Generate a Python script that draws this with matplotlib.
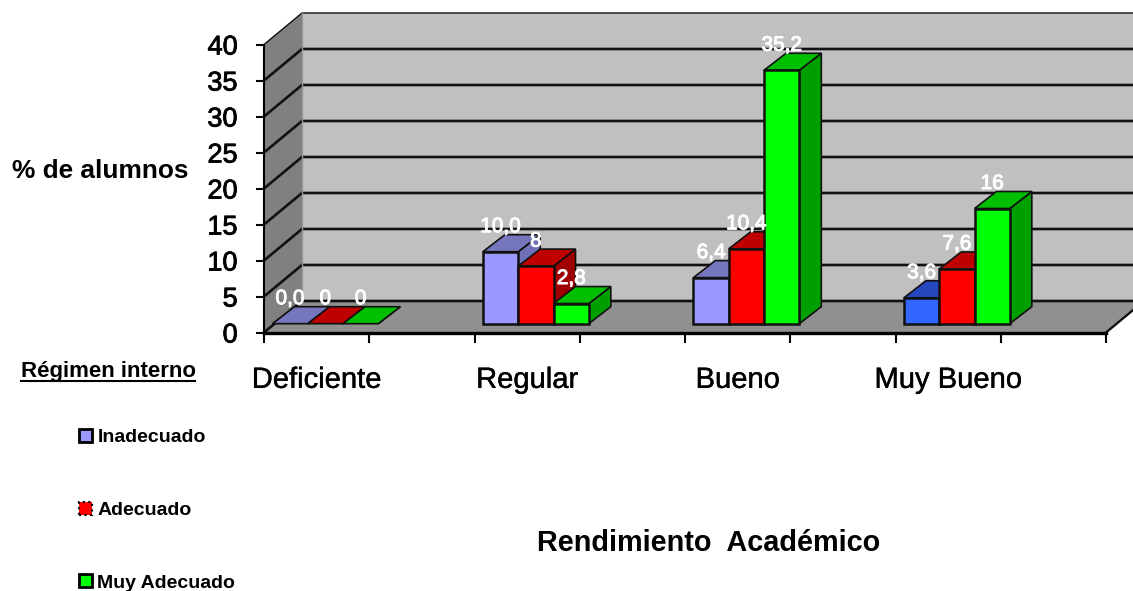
import matplotlib
matplotlib.use("Agg")
import matplotlib.pyplot as plt
import matplotlib.patheffects as pe
from matplotlib.patches import Polygon, Patch

plt.rcParams['font.family'] = ['Liberation Sans', 'DejaVu Sans']

# --- data
categories = ["Deficiente", "Regular", "Bueno", "Muy Bueno"]
series = ["Inadecuado", "Adecuado", "Muy Adecuado"]
inadecuado = [0.0, 10.0, 6.4, 3.6]
adecuado = [0.0, 8.0, 10.4, 7.6]
muy_adecuado = [0.0, 2.8, 35.2, 16.0]
labels_inadecuado = ["0,0", "10,0", "6,4", "3,6"]
labels_adecuado = ["0", "8", "10,4", "7,6"]
labels_muy = ["0", "2,8", "35,2", "16"]
y_ticks = [0, 5, 10, 15, 20, 25, 30, 35, 40]

W, H = 1133, 591
X0_PX, Y0_PX = 264.0, 332.5     # pixel of the chart origin
PX_X, PX_Y = 210.5, 7.2         # pixels per category / per percent

# front, top, side colours
c_inad = ("#9999FF", "#7676BE", "#7070B8")
c_inad_last = ("#3366FF", "#2648BF", "#2648BF")
c_adec = ("#FF0000", "#BF0000", "#A00000")
c_muy = ("#00FF00", "#00BF00", "#009F00")

wall_dx, wall_dy = 38 / PX_X, 31.5 / PX_Y
bar_dx, bar_dy = 22 / PX_X, 17 / PX_Y
base_y = 8.8 / PX_Y
group_start = 0.04
bar_w = 35.3 / PX_X

heavy = [pe.withStroke(linewidth=0.6, foreground="black")]
heavy_white = [pe.withStroke(linewidth=0.7, foreground="white")]

fig = plt.figure(figsize=(W / 100, H / 100), dpi=100, facecolor="white")
ax = fig.add_axes([0, 0, 1, 1])
ax.patch.set_visible(False)
ax.set_xlim(-X0_PX / PX_X, (W - X0_PX) / PX_X)
ax.set_ylim(-(H - Y0_PX) / PX_Y, Y0_PX / PX_Y)

# --- walls and floor
top = y_ticks[-1]
n = len(categories)
ax.add_patch(Polygon([(wall_dx, wall_dy), (n + wall_dx, wall_dy), (n + wall_dx, top + wall_dy), (wall_dx, top + wall_dy)],
                     fc="#C0C0C0", ec="none", zorder=1))
ax.add_patch(Polygon([(0, 0), (wall_dx, wall_dy), (wall_dx, top + wall_dy), (0, top)],
                     fc="#808080", ec="none", zorder=1))
ax.add_patch(Polygon([(0, 0), (n, 0), (n + wall_dx, wall_dy), (wall_dx, wall_dy)],
                     fc="#909090", ec="none", zorder=1))

for v in y_ticks:
    ax.plot([0, wall_dx, n + wall_dx], [v, v + wall_dy, v + wall_dy], color="#111111",
            lw=1.0 if v == top else 1.9, zorder=1.5, solid_joinstyle="miter")
ax.plot([wall_dx, wall_dx], [0 + wall_dy, top + wall_dy], color="#999999", lw=1, zorder=1.5)
ax.plot([n, n + wall_dx], [0, wall_dy], color="#111111", lw=1.7, zorder=1.5)


def draw_bar(x, value, colors, z):
    y0 = base_y
    y1 = base_y + value
    ax.add_patch(Polygon([(x + bar_w, y0), (x + bar_w + bar_dx, y0 + bar_dy), (x + bar_w + bar_dx, y1 + bar_dy), (x + bar_w, y1)],
                         fc=colors[2], ec="#111111", lw=1.2, zorder=z))
    ax.add_patch(Polygon([(x, y1), (x + bar_dx, y1 + bar_dy), (x + bar_w + bar_dx, y1 + bar_dy), (x + bar_w, y1)],
                         fc=colors[1], ec="#111111", lw=1.2, zorder=z))
    if value > 0:
        ax.add_patch(Polygon([(x, y0), (x + bar_w, y0), (x + bar_w, y1), (x, y1)],
                             fc=colors[0], ec="#111111", lw=1.8, zorder=z))


all_vals = [inadecuado, adecuado, muy_adecuado]
all_labels = [labels_inadecuado, labels_adecuado, labels_muy]
for i in range(n):
    for s in range(3):
        x = i + group_start + s * bar_w
        cols = (c_inad, c_adec, c_muy)[s]
        if s == 0 and i == n - 1:
            cols = c_inad_last
        val = all_vals[s][i]
        draw_bar(x, val, cols, 3 + i + s * 0.1)
        ax.annotate(all_labels[s][i], (x + bar_w / 2, base_y + val), xytext=(0, 18), textcoords="offset points",
                    ha="center", va="center", color="white", fontsize=15, zorder=10, path_effects=heavy_white)

# --- axes
for name in ["top", "right"]:
    ax.spines[name].set_visible(False)
ax.spines["left"].set_position(("data", 0))
ax.spines["left"].set_bounds(0, top)
ax.spines["left"].set_linewidth(1.5)
ax.spines["bottom"].set_position(("data", 0))
ax.spines["bottom"].set_bounds(0, n)
ax.spines["bottom"].set_linewidth(2.4)

ax.set_yticks(y_ticks)
ax.tick_params(axis="y", length=6, width=1.5, pad=13, labelsize=19.5, direction="out")
for t in ax.get_yticklabels():
    t.set_path_effects(heavy)
    t.set_y(t.get_position()[1])
ax.set_xticks([k * 0.5 for k in range(2 * n + 1)])
ax.set_xticklabels([])
ax.tick_params(axis="x", which="major", length=7, width=1.5, direction="out")
ax.set_xticks([i + 0.25 for i in range(n)], labels=categories, minor=True)
ax.tick_params(axis="x", which="minor", length=0, pad=24, labelsize=21)
for t in ax.get_xticklabels(minor=True):
    t.set_path_effects([pe.withStroke(linewidth=0.3, foreground="black")])

# --- titles
ax.text(12 / W, 1 - 171 / H, "% de alumnos", transform=ax.transAxes, fontsize=18.9, fontweight="bold", va="center")
ax.text(880 / W, 1 - 543 / H, "Rendimiento  Académico", transform=ax.transAxes, fontsize=20.8, fontweight="bold",
        va="center", ha="right")
ax.text(21 / W, 1 - 371 / H, "Régimen interno", transform=ax.transAxes, fontsize=16, fontweight="bold", va="center")
ax.plot([21 / W, 195 / W], [1 - 381 / H, 1 - 381 / H], transform=ax.transAxes, color="black", lw=1.5)

# --- legend
handles = [Patch(fc=c_inad[0], ec="black", lw=2), Patch(fc=c_adec[0], ec="black", lw=1.5, ls=":"),
           Patch(fc=c_muy[0], ec="black", lw=2)]
ax.legend(handles, series, loc="upper left", bbox_to_anchor=(79 / W, 1 - 429 / H), frameon=False, borderpad=0,
          borderaxespad=0, handlelength=0.65, handleheight=0.65, handletextpad=0.3, labelspacing=2.85,
          prop={"weight": "bold", "size": 14})

fig.savefig("out.png", dpi=100, facecolor="white")
